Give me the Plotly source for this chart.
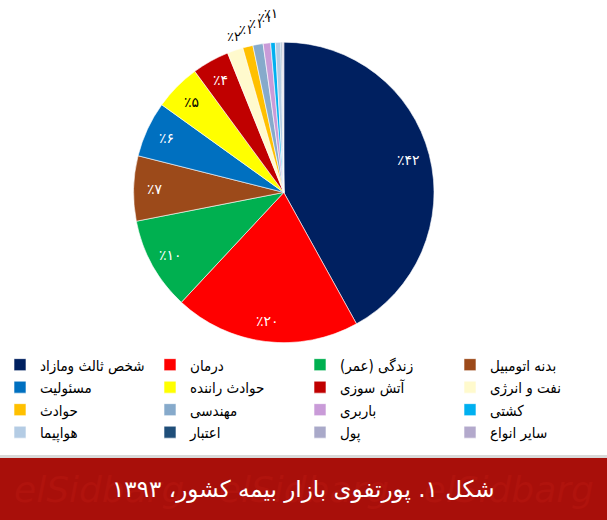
import math
import plotly.graph_objects as go

labels = ["شخص ثالث ومازاد", "درمان", "زندگی (عمر)\u200f", "بدنه اتومبیل",
          "مسئولیت", "حوادث راننده", "آتش سوزی", "نفت و انرژی",
          "حوادث", "مهندسی", "باربری", "کشتی",
          "هواپیما", "اعتبار", "پول", "سایر انواع"]
values = [42, 20, 10, 7, 6, 5, 4, 1.7, 1.1, 1.1, 0.8, 0.5, 0.6, 0.1, 0.1, 0.1]
pct_text = ["٪۴۲", "٪۲۰", "٪۱۰", "٪۷", "٪۶", "٪۵", "٪۴", "٪۲",
            "٪۱", "٪۱", "٪۱", "٪۱", "", "", "", ""]
colors = ["#002060", "#FF0000", "#00B050", "#9C4A1A", "#0070C0", "#FFFF00",
          "#C00000", "#FFFACD", "#FFC000", "#86AACB", "#C99BD8", "#00B0F0",
          "#B4CCE4", "#1F4E79", "#A9A9C9", "#B3A9CC"]
text_colors = ["white", "white", "white", "white", "white", "black", "white", "black",
               "black", "black", "black", "black", "black", "black", "black", "black"]
n_inside = 7

caption = "شکل ۱. پورتفوی بازار بیمه کشور، ۱۳۹۳"

W, H = 607, 520
dom_x = [0.22, 0.715]
dom_y = [0.327, 0.933]

fig = go.Figure(go.Pie(
    labels=labels, values=values, textinfo="none",
    sort=False, direction="clockwise", rotation=0,
    marker=dict(colors=colors, line=dict(color="white", width=0.6)),
    domain=dict(x=dom_x, y=dom_y),
    hoverinfo="label+percent",
))

# percentage labels placed along each slice's mid-angle (inside near the rim, or just outside,
# stepping outward for the crowded small slices)
cx = (dom_x[0] + dom_x[1]) / 2 * W
cy = (dom_y[0] + dom_y[1]) / 2 * H
r = min((dom_x[1] - dom_x[0]) * W, (dom_y[1] - dom_y[0]) * H) / 2
total = sum(values)
annotations = []
cum = 0.0
k = 0
for i, v in enumerate(values):
    mid = (cum + v / 2) / total * 2 * math.pi
    cum += v
    if not pct_text[i]:
        continue
    if i < n_inside:
        rr = r * 0.86
        yanchor = "middle"
        size = 14
    else:
        rr = r + 4 + 4 * k
        k += 1
        yanchor = "bottom"
        size = 13
    px = cx + rr * math.sin(mid)
    py = cy + rr * math.cos(mid)
    annotations.append(dict(text=pct_text[i], xref="paper", yref="paper",
                            x=px / W, y=py / H, showarrow=False,
                            xanchor="center", yanchor=yanchor,
                            font=dict(family="DejaVu Sans", size=size, color=text_colors[i])))

annotations += [
    dict(text="elSidbarg   elSidbarg   elSidbarg", xref="paper", yref="paper",
         x=0.5, y=0.058, showarrow=False, xanchor="center", yanchor="middle",
         font=dict(family="DejaVu Sans", size=36, color="#B0130D", style="italic")),
    dict(text=caption, xref="paper", yref="paper", x=0.5, y=0.058, showarrow=False,
         xanchor="center", yanchor="middle",
         font=dict(family="DejaVu Sans", size=23, color="white")),
]

fig.update_layout(
    width=W, height=H,
    margin=dict(l=0, r=0, t=0, b=0),
    paper_bgcolor="white", plot_bgcolor="white",
    showlegend=True,
    legend=dict(orientation="h", x=0.0, xanchor="left", y=0.33, yanchor="top",
                entrywidth=105, entrywidthmode="pixels", itemwidth=30,
                font=dict(family="DejaVu Sans Condensed, DejaVu Sans", size=15, color="black"),
                tracegroupgap=0),
    shapes=[
        dict(type="rect", xref="paper", yref="paper", x0=0, x1=1, y0=0, y1=0.119,
             fillcolor="#A80F0A", line=dict(width=0), layer="below"),
        dict(type="rect", xref="paper", yref="paper", x0=0, x1=1, y0=0.119, y1=0.125,
             fillcolor="#D9D9D9", line=dict(width=0), layer="below"),
    ],
    annotations=annotations,
)

fig.write_html("out.html", config={"displayModeBar": False},
               post_script="document.body.style.margin='0';")
